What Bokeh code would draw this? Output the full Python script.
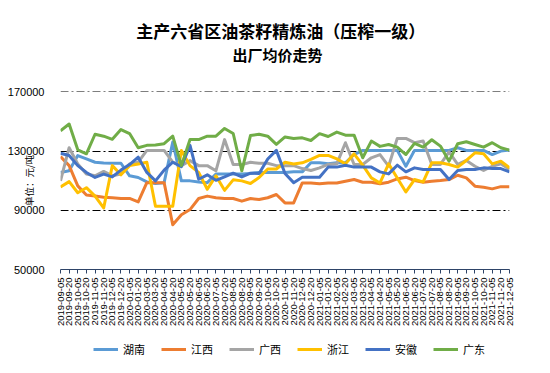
import math
from bokeh.plotting import figure
from bokeh.layouts import column
from bokeh.models import Range1d, FixedTicker, Legend, LegendItem, NumeralTickFormatter, Title
from bokeh.embed import file_html
from bokeh.resources import INLINE

dates = [
    "2019-09-05", "2019-09-20", "2019-10-05", "2019-10-20", "2019-11-05", "2019-11-20", "2019-12-05", "2019-12-20",
    "2020-01-05", "2020-01-20", "2020-03-05", "2020-03-20", "2020-04-05", "2020-04-20", "2020-05-05", "2020-05-20",
    "2020-06-05", "2020-06-20", "2020-07-05", "2020-07-20", "2020-08-05", "2020-08-20", "2020-09-05", "2020-09-20",
    "2020-10-05", "2020-10-20", "2020-11-05", "2020-11-20", "2020-12-05", "2020-12-20",
    "2021-01-05", "2021-01-20", "2021-02-05", "2021-02-20", "2021-03-05", "2021-03-20", "2021-04-05", "2021-04-20",
    "2021-05-05", "2021-05-20", "2021-06-05", "2021-06-20", "2021-07-05", "2021-07-20", "2021-08-05", "2021-08-20",
    "2021-09-05", "2021-09-20", "2021-10-05", "2021-10-20", "2021-11-05", "2021-11-20", "2021-12-05",
]

hunan = [115600, 116700, 127000, 124700, 122500, 122000, 121800, 121800, 113300, 112200, 109200, 108100, 108700, 136200,
         109900, 109900, 109200, 108700, 114500, 114500, 114500, 114500, 114900, 115600, 115600, 115600, 115600, 116100,
         116000, 122100, 122100, 121400, 122100, 122100, 127700, 130500, 130500, 130500, 130500, 130500, 119800, 130500,
         130500, 130500, 130500, 130500, 132300, 130500, 130500, 130500, 127700, 130000, 130700]
jiangxi = [126300, 120200, 106500, 100300, 99600, 98900, 98500, 98000, 98000, 95700, 108700, 108700, 108700, 80200,
           87000, 90500, 98000, 99600, 98500, 98000, 98000, 96200, 98000, 97300, 98500, 100700, 95000, 95000,
           108500, 108500, 107900, 108500, 108500, 109700, 110800, 109000, 109000, 107900, 109000, 111200, 112400, 110100,
           109000, 109700, 110100, 110800, 113700, 111900, 106300, 105600, 104500, 106000, 106000]
guangxi = [109900, 132300, 121300, 114500, 113300, 116300, 113300, 114500, 121300, 122500, 130500, 130500, 130500, 122500,
           120200, 123600, 120200, 120200, 116700, 137800, 120900, 120900, 122500, 121800, 121800, 120200, 120200, 120200,
           118200, 116900, 118700, 121000, 121400, 135700, 121000, 121000, 125500, 127700, 119800, 138600, 138600, 135700,
           136800, 121000, 121000, 129500, 121000, 123700, 119800, 116900, 119800, 121400, 117600]
zhejiang = [105800, 109400, 101900, 105300, 99600, 91600, 120200, 114000, 120200, 121300, 122500, 92700, 92700, 92700,
            130500, 120200, 115600, 104200, 113300, 103500, 110600, 109900, 108100, 112200, 117900, 117900, 122500, 121300,
            122100, 124400, 127100, 127100, 124800, 121400, 128200, 120500, 111900, 108500, 121400, 111900, 102400, 110800,
            109200, 122100, 122100, 121000, 119200, 123700, 128900, 128200, 121400, 123200, 118700]
anhui = [128600, 127000, 120200, 115600, 112200, 114500, 112600, 117200, 120900, 125900, 115600, 109900, 117200, 122500,
         119500, 133900, 111000, 114000, 110300, 112600, 115100, 112600, 115100, 114900, 124700, 130500, 114900, 108700,
         112400, 112400, 112400, 119200, 119200, 120500, 119200, 119200, 119200, 116000, 114600, 120500, 116000, 118700,
         117600, 117600, 117600, 110800, 116900, 117600, 117600, 118700, 118200, 118200, 116000]
guangdong = [143700, 148300, 130900, 128200, 141400, 140100, 138000, 144600, 141900, 132300, 133900, 134100, 135000, 140100,
             120200, 137800, 137800, 140100, 140100, 145300, 141900, 116700, 140500, 141400, 140100, 134600, 139600, 138500,
             139000, 137200, 141800, 139900, 142900, 140800, 140800, 125500, 136800, 133200, 134500, 132700, 127700, 135200,
             132700, 137700, 133400, 123200, 135000, 136300, 134500, 132700, 135700, 132300, 130700]

series_names = ["湖南", "江西", "广西", "浙江", "安徽", "广东"]
series_values = [hunan, jiangxi, guangxi, zhejiang, anhui, guangdong]
series_colors = ["#5B9BD5", "#ED7D31", "#A5A5A5", "#FFC000", "#4472C4", "#70AD47"]
y_ticks = [50000, 90000, 130000, 170000]

# a trailing ideographic space nudges each centred title line left onto the chart's centre
title_line1 = "主产六省区油茶籽精炼油（压榨一级）　"
title_line2 = "出厂均价走势　"
y_title = "单位：元/吨"

CJK = "Noto Sans CJK SC"
NUM = "Liberation Sans"

xs = list(range(len(dates)))

# ---- main chart ----
p = figure(width=550, height=335, output_backend="svg", toolbar_location=None,
           x_range=Range1d(0, len(dates) - 1), y_range=Range1d(y_ticks[0], y_ticks[-1] + 300),
           min_border_left=60, min_border_right=41, min_border_top=91, min_border_bottom=66,
           title_location=None)
p.outline_line_color = None
p.background_fill_color = "white"
p.border_fill_color = "white"

p.xaxis.ticker = FixedTicker(ticks=xs)
p.xaxis.major_label_overrides = {i: d for i, d in enumerate(dates)}
p.xaxis.major_label_orientation = math.pi / 2
p.xaxis.major_label_text_font = NUM
p.xaxis.major_label_text_font_size = "9.5px"
p.xaxis.major_label_text_color = "#000000"
p.xaxis.major_label_standoff = 4
p.xaxis.major_tick_out = 4
p.xaxis.major_tick_in = 0
p.xaxis.minor_tick_line_color = None
p.xaxis.axis_line_color = "#2E4468"
p.xaxis.major_tick_line_color = "#2E4468"
p.xaxis.axis_line_width = 1.2

p.yaxis.ticker = FixedTicker(ticks=y_ticks)
p.yaxis.formatter = NumeralTickFormatter(format="0")
p.yaxis.axis_line_color = None
p.yaxis.major_tick_line_color = None
p.yaxis.minor_tick_line_color = None
p.yaxis.major_label_standoff = 10
p.yaxis.major_label_text_font = NUM
p.yaxis.major_label_text_font_size = "11px"
p.yaxis.major_label_text_color = "#000000"
p.yaxis.axis_label = y_title
p.yaxis.axis_label_text_font = CJK
p.yaxis.axis_label_text_font_size = "9.5px"
p.yaxis.axis_label_text_font_style = "normal"
p.yaxis.axis_label_text_color = "#000000"
p.yaxis.axis_label_standoff = -31

p.xgrid.visible = False
p.ygrid.grid_line_color = "black"
p.ygrid.grid_line_dash = "8 3 2 3"
p.ygrid.grid_line_width = 1

for vals, col in zip(series_values, series_colors):
    p.line(xs, vals, line_color=col, line_width=3, line_join="round")

# titles: first added sits closest to the plot; a blank spacer lifts them
p.add_layout(Title(text=" ", text_font_size="1px", standoff=25), "above")
p.add_layout(Title(text=title_line2, align="center", standoff=-3, text_font=CJK,
                   text_font_size="15px", text_font_style="bold", text_color="#000000"), "above")
p.add_layout(Title(text=title_line1, align="center", standoff=2, text_font=CJK,
                   text_font_size="17px", text_font_style="bold", text_color="#000000"), "above")

# ---- legend strip under the chart (its key lines fall outside this strip's view) ----
lg = figure(width=550, height=38, output_backend="svg", toolbar_location=None,
            x_axis_type=None, y_axis_type=None, min_border=0,
            x_range=Range1d(0, 1), y_range=Range1d(0, 1), title_location=None)
lg.outline_line_color = None
lg.background_fill_color = "white"
lg.border_fill_color = "white"
items = []
for name, vals, col in zip(series_names, series_values, series_colors):
    key = lg.line(xs, vals, line_color=col, line_width=3)
    items.append(LegendItem(label=name, renderers=[key]))
legend = Legend(items=items, orientation="horizontal", location=(33, 16),
                glyph_width=25, glyph_height=14, label_height=14, label_standoff=5, spacing=16,
                padding=0, margin=0, border_line_color=None, background_fill_alpha=0,
                label_text_font=CJK, label_text_font_size="11px", label_text_color="#000000")
lg.add_layout(legend, "center")

layout = column(p, lg, spacing=0)
open("out.html", "w").write(file_html(layout, INLINE))
